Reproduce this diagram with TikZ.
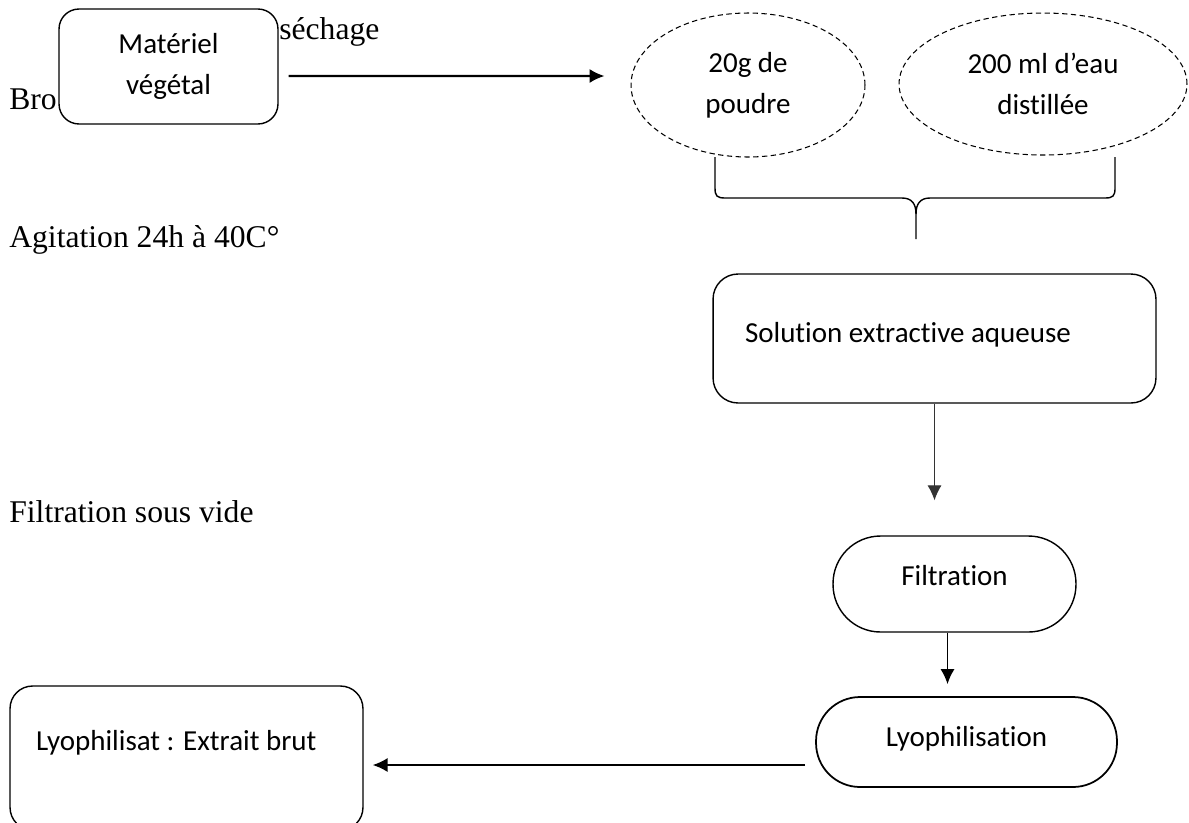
\documentclass[tikz,border=0pt]{standalone}
\usepackage{fontspec}
\setmainfont{Liberation Serif}
\newfontfamily\boxfont{Carlito}[Ligatures=NoCommon]
\usetikzlibrary{arrows.meta,shapes.geometric}

\begin{document}
\begin{tikzpicture}[x=0.02cm, y=-0.02cm, >={Latex[length=8.5pt,width=8pt]},
    boite/.style={draw, line width=0.8pt, inner sep=0pt, text height=0.45cm,
      font=\boxfont\fontsize{16.5}{23}\selectfont},
    bulle/.style={draw, ellipse, dash pattern=on 3pt off 2pt, line width=0.6pt,
      inner sep=0pt, align=center, font=\boxfont\fontsize{16.5}{23.5}\selectfont},
    etape/.style={anchor=base west, inner sep=0pt, font=\fontsize{18}{22}\selectfont},
    fleche/.style={->, line width=1pt}]
    \useasboundingbox (0,0) rectangle (1189,822);

    % textes des étapes
    \node[etape] (broyage) at (9,109) {Bro};
    \node[etape] (sechage) at (279,39) {séchage};
    \node[etape] (agitation) at (9,247) {Agitation 24h à 40C°};
    \node[etape] (filtrationvide) at (9,522) {Filtration sous vide};

    % matériel de départ
    \node[draw, line width=0.8pt, fill=white, rounded corners=0.4cm, inner sep=0pt,
      minimum width=4.38cm, minimum height=2.3cm, align=center,
      font=\boxfont\fontsize{16.5}{23}\selectfont] (materiel) at (168.5,66.5) {Matériel\\végétal};

    % ingrédients
    \node[bulle, minimum width=4.68cm, minimum height=2.88cm] (poudre) at (748,85) {20g de\\poudre};
    \node[bulle, minimum width=5.76cm, minimum height=2.84cm] (eau) at (1043,84) {200 ml d’eau\\distillée};

    % accolade
    \draw[line width=0.8pt] (715,157) -- (715,188) .. controls (715,196) and (717,198) .. (725,198)
      -- (902,198) .. controls (912,198) and (916,204) .. (916,214) -- (916,239);
    \draw[line width=0.8pt] (916,214) .. controls (916,204) and (920,198) .. (930,198)
      -- (1105,198) .. controls (1113,198) and (1115,196) .. (1115,188) -- (1115,157);

    % étapes de l'extraction
    \node[boite, rounded corners=0.5cm, minimum width=8.86cm, minimum height=2.58cm,
      text width=7.58cm, inner xsep=0.64cm, align=flush left, text depth=0.29cm] (solution) at (934.5,338.5) {Solution extractive aqueuse};
    \node[boite, rounded corners=0.95cm, minimum width=4.86cm, minimum height=1.92cm,
      text depth=0.41cm] (filtration) at (954.5,584) {Filtration};
    \node[boite, line width=1pt, rounded corners=0.88cm, minimum width=6.02cm, minimum height=1.8cm,
      text depth=0.29cm] (lyophilisation) at (966.5,742) {Lyophilisation};
    \node[boite, rounded corners=0.45cm, minimum width=7.06cm, minimum height=2.88cm,
      text width=6.02cm, inner xsep=0.52cm, align=flush left, text depth=0.77cm] (lyophilisat) at (186.5,758) {Lyophilisat : Extrait brut};

    % flèches
    \draw[fleche, line width=1.2pt] ([shift={(10,9.5)}]materiel.east) -- ([shift={(-26,-9)}]poudre.west);
    \draw[fleche, line width=0.6pt, black!80, shorten >=0.7cm] (solution.south) -- (solution.south |- filtration.north);
    \coordinate (filtbas) at ([xshift=-0.14cm]filtration.south);
    \draw[fleche, shorten >=0.24cm] (filtbas) -- (filtbas |- lyophilisation.north);
    \coordinate (lyoout) at ([shift={(-10,23)}]lyophilisation.west);
    \draw[fleche, shorten >=0.18cm] (lyoout) -- (lyoout -| lyophilisat.east);
\end{tikzpicture}
\end{document}
